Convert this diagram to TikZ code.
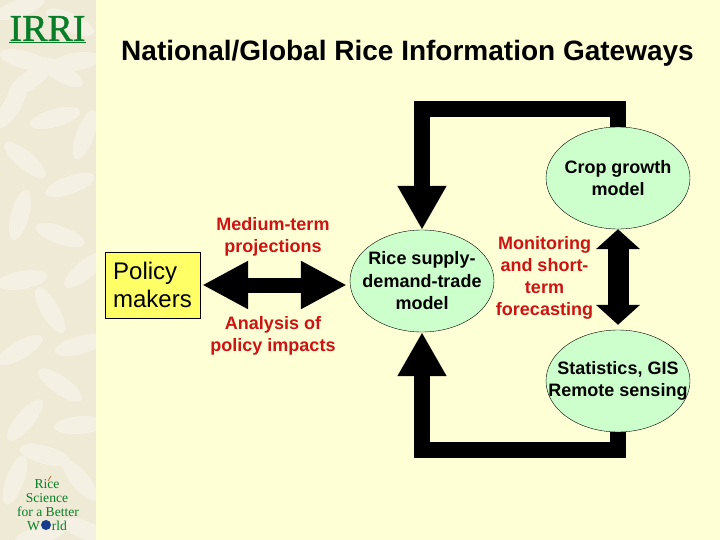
\documentclass[tikz,border=0pt]{standalone}
\usepackage{fontspec}
\setmainfont{Liberation Sans}
\newfontfamily\logofont{Liberation Serif}
\newfontfamily\irrifont[FakeBold=1.2]{Liberation Serif}
\usepackage{xcolor}
\usetikzlibrary{positioning,arrows.meta,calc,shapes.geometric}
\definecolor{slidecream}{RGB}{255,255,214}
\definecolor{stripbeige}{RGB}{238,234,214}
\definecolor{grainwhite}{RGB}{244,241,228}
\definecolor{boxyellow}{RGB}{255,255,102}
\definecolor{modelgreen}{RGB}{204,255,204}
\definecolor{labelred}{RGB}{204,20,20}
\definecolor{logogreen}{RGB}{10,125,40}
\definecolor{globeblue}{RGB}{25,60,140}
\definecolor{stalkbrown}{RGB}{190,110,50}

\begin{document}
\begin{tikzpicture}[
  x=1pt, y=-1pt,
  model/.style={draw, ellipse, fill=modelgreen, line width=0.4pt, minimum width=144pt, minimum height=102pt, inner sep=-30pt, align=center, font=\fontsize{18}{22.5}\selectfont\bfseries},
  lab/.style={align=center, text=labelred, font=\fontsize{18}{22}\selectfont\bfseries},
  loop/.style={line width=16pt, miter limit=10, -{Triangle[length=44pt, width=46pt]}},
  twoway/.style n args={2}{{Triangle[length=#1, width=#2]}-{Triangle[length=#1, width=#2]}},
  logo/.style={text=logogreen, inner sep=0pt, font=\logofont\fontsize{13.6}{13.6}\selectfont},
  ]
  \useasboundingbox (0,0) rectangle (720,540);
  % background and rice strip
  \fill[slidecream] (0,0) rectangle (720,540);
  \fill[stripbeige] (0,0) rectangle (96,540);
  \begin{scope}
    \clip (0,0) rectangle (96,540);
    \foreach \gx/\gy/\grot in {20/8/20, 70/22/-25, 25/60/-15, 75/62/10, 30/80/35, 60/72/-30, 12/105/60, 55/118/15, 85/135/70,
      25/160/-40, 70/185/20, 20/215/75, 60/235/-20, 85/270/40, 22/280/10, 50/310/-60, 80/345/15, 20/350/30,
      60/385/-35, 25/420/50, 80/425/5, 45/455/-15, 15/480/70, 80/480/-50, 40/535/15, 85/530/-20}
      \fill[grainwhite, rotate around={\grot:(\gx,\gy)}] (\gx,\gy) ellipse (26pt and 9pt);
  \end{scope}
  % logos
  \node[logo, font=\irrifont\fontsize{38}{38}\selectfont] (irri) at (47.5,28.5) {IRRI};
  \draw[logogreen, line width=1pt] ($(irri.south west)+(0,1)$) -- ($(irri.south east)+(0,1)$);
  \node[logo] (rice) at (47,484) {Rice};
  \draw[stalkbrown, line width=0.8pt] (48,481) -- (51,476);
  \node[logo] (science) at (47,498) {Science};
  \node[logo] (better) at (48,512) {for a Better};
  \node[logo] (world) at (47,526) {W\hspace{12pt}rld};
  \node[circle, fill=globeblue, minimum size=10pt, inner sep=0pt] (globe) at (46,525) {};
  % title
  \node[font=\fontsize{28}{32}\selectfont\bfseries] (title) at (407.5,53.5) {National/Global Rice Information Gateways};
  % corners of the feedback loop
  \coordinate (topbar) at (0,109);
  \coordinate (botbar) at (0,450);
  % models
  \node[model] (crop) at (618,178) {Crop growth\\model};
  \node[model] (rsm) at (422,281) {Rice supply-\\demand-trade\\model};
  \node[model] (stats) at (618,381) {Statistics, GIS\\Remote sensing};
  % policy box
  \node[draw, fill=boxyellow, minimum width=95pt, minimum height=66pt, inner sep=0pt, align=left, font=\fontsize{24}{28}\selectfont] (policy) at (152.5,285) {Policy\\makers};
  % feedback loop
  \draw[loop] (crop.north) -- (crop.north |- topbar) -- (rsm.north |- topbar) -- (rsm.north);
  \draw[loop] (stats.south) -- (stats.south |- botbar) -- (rsm.south |- botbar) -- (rsm.south);
  % two way arrows
  \draw[twoway={46pt}{45pt}, line width=15pt, shorten <=2pt, shorten >=3pt] (policy.east) -- (policy.east -| rsm.west);
  \draw[twoway={20pt}{43pt}, line width=21pt, shorten >=5pt] (crop.south) -- (stats.north);
  % labels
  \node[lab] (medium) at (273,237) {Medium-term\\projections};
  \node[lab] (analysis) at (273,336) {Analysis of\\policy impacts};
  \node[lab] (monitoring) at (544.5,278) {Monitoring\\and short-\\term\\forecasting};
\end{tikzpicture}
\end{document}
